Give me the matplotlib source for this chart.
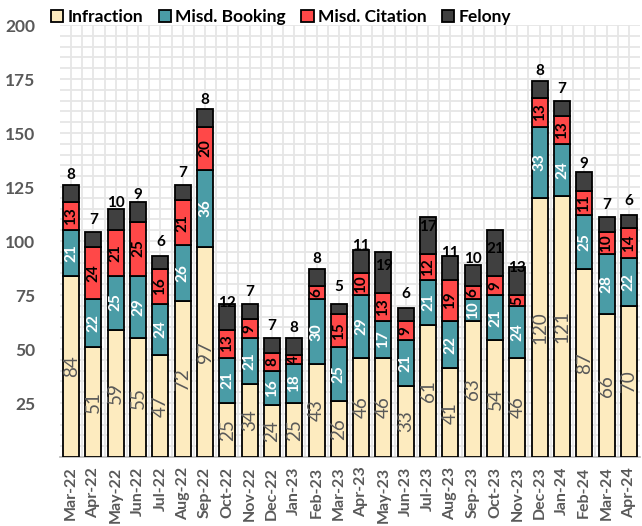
import numpy as np
import matplotlib
matplotlib.use('Agg')
import matplotlib.pyplot as plt
from matplotlib.ticker import MultipleLocator

plt.rcParams['font.family'] = ['Lato', 'DejaVu Sans']

months = ['Mar-22', 'Apr-22', 'May-22', 'Jun-22', 'Jul-22', 'Aug-22', 'Sep-22',
          'Oct-22', 'Nov-22', 'Dec-22', 'Jan-23', 'Feb-23', 'Mar-23', 'Apr-23',
          'May-23', 'Jun-23', 'Jul-23', 'Aug-23', 'Sep-23', 'Oct-23', 'Nov-23',
          'Dec-23', 'Jan-24', 'Feb-24', 'Mar-24', 'Apr-24']
infraction = [84, 51, 59, 55, 47, 72, 97, 25, 34, 24, 25, 43, 26, 46, 46, 33,
              61, 41, 63, 54, 46, 120, 121, 87, 66, 70]
misd_booking = [21, 22, 25, 29, 24, 26, 36, 21, 21, 16, 18, 30, 25, 29, 17, 21,
                21, 22, 10, 21, 24, 33, 24, 25, 28, 22]
misd_citation = [13, 24, 21, 25, 16, 21, 20, 13, 9, 8, 4, 6, 15, 10, 13, 9,
                 12, 19, 6, 9, 5, 13, 13, 11, 10, 14]
felony = [8, 7, 10, 9, 6, 7, 8, 12, 7, 7, 8, 8, 5, 11, 19, 6,
          17, 11, 10, 21, 13, 8, 7, 9, 7, 6]

series = [('Infraction', infraction, '#FDEBBF', '#595959', 'normal', 13.5),
          ('Misd. Booking', misd_booking, '#4A9CA6', 'white', 'bold', 11),
          ('Misd. Citation', misd_citation, '#FF4848', 'black', 'bold', 11),
          ('Felony', felony, '#404040', 'black', 'bold', 11)]

fig = plt.figure(figsize=(6.42, 5.26), dpi=100)
ax = fig.add_axes([60 / 642, 69 / 526, 580 / 642, 432 / 526])

x = np.arange(len(months))
bottom = np.zeros(len(months))
for name, vals, color, tcolor, weight, size in series:
    vals = np.array(vals)
    ax.bar(x, vals, 0.72, bottom=bottom, color=color, edgecolor='black',
           linewidth=1.3, label=name, zorder=3)
    if name == 'Felony':
        # felony labels sit a fixed distance above the segment base
        for xi, b, v in zip(x, bottom, vals):
            ax.annotate(str(v), (xi, b), xytext=(0, 27), textcoords='offset pixels',
                        ha='center', va='center', fontsize=size, fontweight=weight,
                        color=tcolor, zorder=4)
    else:
        for xi, b, v in zip(x, bottom, vals):
            ax.text(xi, b + v / 2, str(v), rotation=90, ha='center', va='center',
                    fontsize=size, fontweight=weight, color=tcolor, zorder=4)
    bottom = bottom + vals

ax.set_xlim(-0.5, len(months) - 0.5)
ax.set_ylim(0, 200)
ax.yaxis.set_minor_locator(MultipleLocator(5))
ax.set_xticks(x)
ax.set_xticks(x[:-1] + 0.5, minor=True)
ax.set_xticklabels(months, rotation=90)
ax.set_yticks([25, 50, 75, 100, 125, 150, 175, 200])
ax.grid(which='both', color='#E6E6E6', linewidth=1.3, zorder=0)
ax.tick_params(which='both', length=0)
ax.tick_params(axis='y', labelsize=12.5, labelcolor='#595959', pad=18)
ax.tick_params(axis='x', labelsize=11.5, labelcolor='#595959', pad=7)
for lbl in ax.get_xticklabels() + ax.get_yticklabels():
    lbl.set_fontweight('bold')
for s in ['top', 'right', 'left']:
    ax.spines[s].set_visible(False)
ax.spines['bottom'].set_color('#BFBFBF')
ax.spines['bottom'].set_linewidth(1.3)

fig.legend(loc='upper left', bbox_to_anchor=(0.055, 1.012), ncol=4,
           frameon=False, handlelength=0.7, handleheight=0.7,
           handletextpad=0.25, columnspacing=0.9,
           prop={'size': 12.5, 'weight': 'bold'})

fig.savefig('out.png', dpi=100)
